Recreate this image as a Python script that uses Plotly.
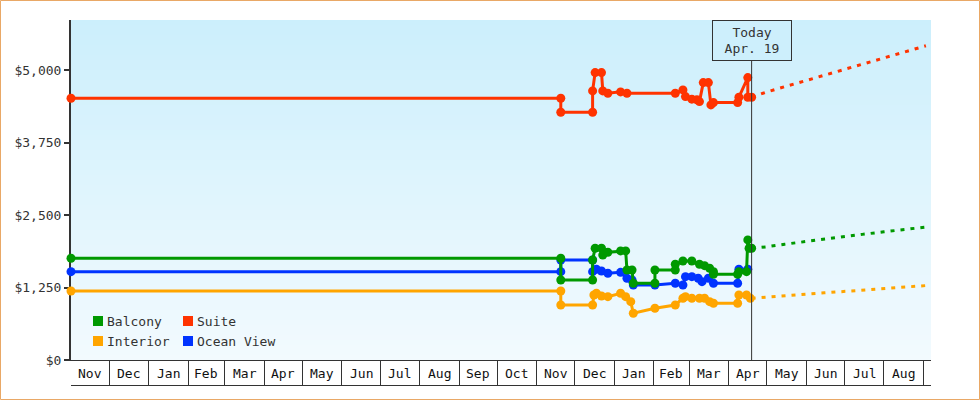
import plotly.graph_objects as go
import pandas as pd

# ---------------- data ----------------
MONTH_STARTS = ["2023-11-01", "2023-12-01", "2024-01-01", "2024-02-01", "2024-03-01", "2024-04-01",
                "2024-05-01", "2024-06-01", "2024-07-01", "2024-08-01", "2024-09-01", "2024-10-01",
                "2024-11-01", "2024-12-01", "2025-01-01", "2025-02-01", "2025-03-01", "2025-04-01",
                "2025-05-01", "2025-06-01", "2025-07-01", "2025-08-01", "2025-09-01"]
MONTH_LABELS = ["Nov", "Dec", "Jan", "Feb", "Mar", "Apr", "May", "Jun", "Jul", "Aug", "Sep", "Oct",
                "Nov", "Dec", "Jan", "Feb", "Mar", "Apr", "May", "Jun", "Jul", "Aug"]
Y_TICKS = [0, 1250, 2500, 3750, 5000]
Y_TICK_LABELS = ["$0", "$1,250", "$2,500", "$3,750", "$5,000"]
X_RANGE = ["2023-11-01", "2025-09-07"]
Y_RANGE = [0, 5870]
TODAY = "2025-04-19"
TODAY_LABEL = "Today<br>Apr. 19"

suite_dates = ["2023-11-01", "2024-11-20", "2024-11-20", "2024-12-15", "2024-12-15", "2024-12-17",
               "2024-12-22", "2024-12-23", "2024-12-27", "2025-01-06", "2025-01-11", "2025-02-18",
               "2025-02-24", "2025-02-26", "2025-03-03", "2025-03-07", "2025-03-09", "2025-03-12",
               "2025-03-16", "2025-03-18", "2025-03-20", "2025-04-08", "2025-04-09", "2025-04-16",
               "2025-04-16", "2025-04-19"]
suite_prices = [4519, 4519, 4278, 4278, 4646, 4962,
                4962, 4646, 4606, 4629, 4606, 4606,
                4663, 4548, 4503, 4491, 4461, 4789,
                4789, 4404, 4444, 4444, 4537, 4876,
                4537, 4537]

balcony_dates = ["2023-11-01", "2024-11-20", "2024-11-20", "2024-12-15", "2024-12-15", "2024-12-17",
                 "2024-12-22", "2024-12-23", "2024-12-27", "2025-01-06", "2025-01-10", "2025-01-11",
                 "2025-01-15", "2025-01-16", "2025-02-02", "2025-02-02", "2025-02-18", "2025-02-18",
                 "2025-02-24", "2025-03-03", "2025-03-09", "2025-03-13", "2025-03-17", "2025-03-20",
                 "2025-03-20", "2025-04-08", "2025-04-09", "2025-04-15", "2025-04-16", "2025-04-17",
                 "2025-04-19"]
balcony_prices = [1756, 1756, 1382, 1382, 1727, 1929,
                  1929, 1813, 1860, 1883, 1883, 1554,
                  1554, 1325, 1325, 1554, 1554, 1653,
                  1710, 1710, 1653, 1629, 1584, 1525,
                  1480, 1480, 1525, 1525, 2073, 1929,
                  1929]

ocean_dates = ["2023-11-01", "2024-11-20", "2024-11-20", "2024-12-15", "2024-12-15", "2024-12-18",
               "2024-12-22", "2024-12-27", "2025-01-06", "2025-01-11", "2025-01-15", "2025-01-16",
               "2025-02-02", "2025-02-18", "2025-02-24", "2025-02-26", "2025-03-03", "2025-03-08",
               "2025-03-11", "2025-03-16", "2025-03-20", "2025-04-08", "2025-04-09", "2025-04-16"]
ocean_prices = [1525, 1525, 1727, 1727, 1525, 1566,
                1537, 1497, 1514, 1411, 1382, 1295,
                1295, 1325, 1295, 1439, 1439, 1411,
                1352, 1411, 1325, 1325, 1566, 1566]

interior_dates = ["2023-11-01", "2024-11-20", "2024-11-20", "2024-12-15", "2024-12-16", "2024-12-18",
                  "2024-12-22", "2024-12-27", "2025-01-06", "2025-01-10", "2025-01-14", "2025-01-16",
                  "2025-02-02", "2025-02-18", "2025-02-24", "2025-02-26", "2025-03-03", "2025-03-09",
                  "2025-03-13", "2025-03-17", "2025-03-20", "2025-04-08", "2025-04-09", "2025-04-15",
                  "2025-04-18"]
interior_prices = [1192, 1192, 950, 950, 1123, 1152,
                   1105, 1093, 1152, 1093, 1007, 807,
                   893, 950, 1066, 1093, 1066, 1066,
                   1066, 1007, 979, 979, 1123, 1123,
                   1066]

forecast_dates = ["2025-04-19", "2025-05-01", "2025-05-15", "2025-06-01", "2025-06-15", "2025-07-01",
                  "2025-07-15", "2025-08-01", "2025-08-15", "2025-09-01", "2025-09-03"]
suite_forecast = [4537, 4629, 4718, 4827, 4916, 5019, 5108, 5217, 5306, 5415, 5425]
balcony_forecast = [1929, 1955, 1999, 2049, 2085, 2129, 2169, 2213, 2251, 2291, 2295]
interior_forecast = [1066, 1089, 1111, 1137, 1159, 1185, 1207, 1234, 1256, 1282, 1285]

SERIES = ["Balcony", "Suite", "Interior", "Ocean View"]
COLORS = {"Balcony": "#009900", "Suite": "#ff3300", "Interior": "#ffa500", "Ocean View": "#0033ff"}

# ---------------- layout geometry ----------------
W, H = 980, 400
ML, MR, MT, MB = 71, 49, 20, 40
PW, PH = W - ML - MR, H - MT - MB


def px_x(p):
    return (p - ML) / PW


def px_y(p):
    return (MT + PH - p) / PH


FONT = "DejaVu Sans Mono, monospace"
TXT = "#333333"

fig = go.Figure()

history = [
    ("Ocean View", ocean_dates, ocean_prices),
    ("Interior", interior_dates, interior_prices),
    ("Balcony", balcony_dates, balcony_prices),
    ("Suite", suite_dates, suite_prices),
]
for name, d, v in history:
    fig.add_trace(go.Scatter(
        x=d, y=v, name=name, mode="lines+markers", cliponaxis=False,
        line=dict(color=COLORS[name], width=3),
        marker=dict(color=COLORS[name], size=9, symbol="circle"),
        showlegend=False,
    ))

for name, v in [("Interior", interior_forecast), ("Balcony", balcony_forecast), ("Suite", suite_forecast)]:
    fig.add_trace(go.Scatter(
        x=forecast_dates, y=v, name=name + " forecast", mode="lines", cliponaxis=False,
        line=dict(color=COLORS[name], width=3, dash="4px,6px"),
        showlegend=False, hoverinfo="skip",
    ))

shapes = []
# gradient background of plot area
top_c = (204, 239, 252)
bot_c = (242, 250, 254)
N = 68
for i in range(N):
    t = i / (N - 1)
    c = tuple(round(top_c[k] + (bot_c[k] - top_c[k]) * t) for k in range(3))
    shapes.append(dict(type="rect", xref="paper", yref="paper", layer="below",
                       x0=0, x1=1, y0=1 - (i + 1) / N - 0.001, y1=1 - i / N,
                       fillcolor="rgb(%d,%d,%d)" % c, line=dict(width=0)))

# bottom line of month boxes
shapes.append(dict(type="line", xref="paper", yref="paper", x0=0, x1=1,
                   y0=px_y(385.5), y1=px_y(385.5), line=dict(color=TXT, width=1)))
# today marker line
shapes.append(dict(type="line", xref="x", yref="paper", x0=TODAY, x1=TODAY,
                   y0=0, y1=px_y(60), line=dict(color=TXT, width=1)))
# outer border
shapes.append(dict(type="rect", xref="paper", yref="paper",
                   x0=px_x(0.5), x1=px_x(W - 0.5), y0=px_y(H - 0.5), y1=px_y(0.5),
                   line=dict(color="#e9a866", width=1)))

annotations = []
# month labels centred in their boxes
starts = pd.to_datetime(MONTH_STARTS)
for i, lab in enumerate(MONTH_LABELS):
    mid = starts[i] + (starts[i + 1] - starts[i]) / 2
    annotations.append(dict(x=mid, y=px_y(373), xref="x", yref="paper", text=lab,
                            showarrow=False, xanchor="center", yanchor="middle",
                            font=dict(family=FONT, size=13, color="#111111")))

# today box
annotations.append(dict(x=TODAY, y=1, xref="x", yref="paper", text=TODAY_LABEL,
                        showarrow=False, xanchor="center", yanchor="top",
                        width=76, height=37, borderpad=1, borderwidth=1,
                        bordercolor=TXT, bgcolor="rgb(205,239,252)",
                        font=dict(family=FONT, size=13, color=TXT)))

# legend (2 x 2 grid)
legend_pos = {"Balcony": (93, 321), "Suite": (183, 321), "Interior": (93, 341), "Ocean View": (183, 341)}
for name in SERIES:
    lx, ly = legend_pos[name]
    shapes.append(dict(type="rect", xref="paper", yref="paper",
                       x0=px_x(lx), x1=px_x(lx + 10), y0=px_y(ly + 5), y1=px_y(ly - 5),
                       fillcolor=COLORS[name], line=dict(width=0)))
    annotations.append(dict(x=px_x(lx + 12), y=px_y(ly), xref="paper", yref="paper", text=name,
                            showarrow=False, xanchor="left", yanchor="middle",
                            font=dict(family=FONT, size=13, color=TXT)))

fig.update_layout(
    width=W, height=H,
    margin=dict(l=ML, r=MR, t=MT, b=MB, pad=0),
    paper_bgcolor="white",
    plot_bgcolor="rgba(0,0,0,0)",
    showlegend=False,
    shapes=shapes,
    annotations=annotations,
    font=dict(family=FONT, size=13, color=TXT),
    xaxis=dict(type="date", range=X_RANGE, showgrid=False, zeroline=False,
               showline=True, linecolor=TXT, linewidth=1,
               ticks="outside", ticklen=25, tickwidth=1, tickcolor=TXT,
               tickvals=MONTH_STARTS[1:], showticklabels=False, layer="below traces"),
    yaxis=dict(range=Y_RANGE, showgrid=False, zeroline=False,
               showline=True, linecolor=TXT, linewidth=2,
               ticks="outside", ticklen=5, tickwidth=2, tickcolor=TXT,
               tickvals=Y_TICKS, ticktext=Y_TICK_LABELS,
               tickfont=dict(family=FONT, size=13, color=TXT), layer="below traces"),
)

fig.write_html("out.html", config={"displayModeBar": False},
               post_script="document.body.style.margin='0';document.body.style.overflow='hidden';")
